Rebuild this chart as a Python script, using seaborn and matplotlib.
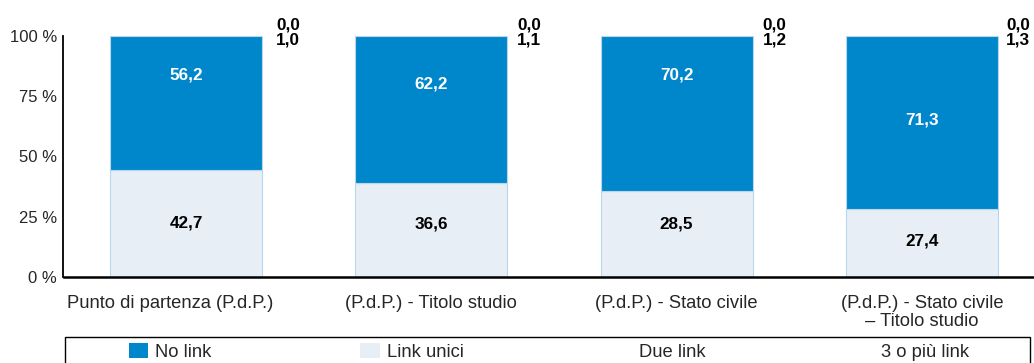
import matplotlib
matplotlib.use("Agg")
import matplotlib.pyplot as plt
import matplotlib.transforms as mtrans
import seaborn as sns
import numpy as np
import pandas as pd
from matplotlib.patches import Rectangle, Patch

categories = ["Punto di partenza (P.d.P.)", "(P.d.P.) - Titolo studio",
              "(P.d.P.) - Stato civile", "(P.d.P.) - Stato civile\n– Titolo studio"]
# values printed on the chart
link_unici = [42.7, 36.6, 28.5, 27.4]
no_link = [56.2, 62.2, 70.2, 71.3]
due_link = [1.0, 1.1, 1.2, 1.3]
tre_piu = [0.0, 0.0, 0.0, 0.0]
# segment heights as drawn in the picture (they do not follow the printed values)
link_unici_drawn = [44.4, 38.9, 35.7, 28.1]
no_link_drawn = [55.6, 61.1, 64.3, 71.9]
yticks = [0, 25, 50, 75, 100]
ytick_labels = ["0 %", "25 %", "50 %", "75 %", "100 %"]
series_names = ["No link", "Link unici", "Due link", "3 o più link"]

# label placement (percent of axis) for the in-bar labels
no_link_label_y = [83.8, 80.0, 83.8, 65.0]
link_unici_label_y = [22.4, 22.0, 22.0, 15.0]
side_label_dx = [0.367, 0.35, 0.35, 0.343]

BLUE = "#0087CB"
LIGHT = "#E7EEF5"
EDGE = "#B9D6EC"

sns.set_style("white")
plt.rcParams["font.family"] = ["Liberation Sans", "DejaVu Sans"]

W, H = 1034, 363
fig = plt.figure(figsize=(W / 100, H / 100), dpi=100)
ax = fig.add_axes([63.5 / W, 86 / H, 981 / W, 241 / H])

df = pd.DataFrame({"cat": categories, "unici": link_unici_drawn, "nolink": no_link_drawn})
bw = 0.62
sns.barplot(data=df, x="cat", y="unici", color=LIGHT, saturation=1, width=bw,
            errorbar=None, edgecolor=EDGE, linewidth=0.8, ax=ax)
sns.barplot(data=df, x="cat", y="nolink", color=BLUE, saturation=1, width=bw,
            errorbar=None, edgecolor=EDGE, linewidth=0.8, ax=ax,
            bottom=np.array(link_unici_drawn))

ax.set_xlim(-0.5, 3.5)
ax.set_ylim(0, 100)
ax.set_xlabel("")
ax.set_ylabel("")

fs_in = 12.3
fs_tick = 12
fs_cat = 13.2


def fmt(v):
    return f"{v:.1f}".replace(".", ",")


for i in range(len(categories)):
    ax.text(i, no_link_label_y[i], fmt(no_link[i]),
            ha="center", va="center", color="white", fontsize=fs_in, fontweight="bold")
    ax.text(i, link_unici_label_y[i], fmt(link_unici[i]),
            ha="center", va="center", color="black", fontsize=fs_in, fontweight="bold")
    ax.text(i + side_label_dx[i], 104.6, fmt(tre_piu[i]),
            ha="left", va="center", color="black", fontsize=fs_in, fontweight="bold",
            clip_on=False)
    ax.text(i + side_label_dx[i], 98.3, fmt(due_link[i]),
            ha="left", va="center", color="black", fontsize=fs_in, fontweight="bold",
            clip_on=False)

for s in ["top", "right"]:
    ax.spines[s].set_visible(False)
ax.spines["left"].set_color("black")
ax.spines["left"].set_linewidth(1.3)
ax.spines["bottom"].set_color("black")
ax.spines["bottom"].set_linewidth(1.8)

ax.set_yticks(yticks)
ax.set_yticklabels(ytick_labels, fontsize=fs_tick)
ax.tick_params(axis="y", direction="inout", length=5, width=1, color="black", pad=2)
ax.set_xticks(range(len(categories)))
ax.set_xticklabels(categories, fontsize=fs_cat, linespacing=1.05)
ax.tick_params(axis="x", which="major", length=0, pad=13)
ax.set_xticks([0.5, 1.5, 2.5], minor=True)
ax.tick_params(axis="x", which="minor", direction="in", length=5, width=1, color="black")

# first category label sits a little left of its bar in the reference
lbl0 = ax.get_xticklabels()[0]
lbl0.set_transform(lbl0.get_transform() +
                   mtrans.ScaledTranslation(-16 / 100, 0, fig.dpi_scale_trans))

# legend
handles = [Patch(facecolor=BLUE, edgecolor="none"),
           Patch(facecolor=LIGHT, edgecolor="none"),
           Patch(facecolor="white", edgecolor="none"),
           Patch(facecolor="white", edgecolor="none")]
fig.legend(handles, series_names, loc="upper left", ncol=4, frameon=False,
           bbox_to_anchor=(114 / W, 1 - 328 / H), fontsize=fs_cat,
           handlelength=1.08, handleheight=0.95, handletextpad=0.38,
           columnspacing=8.1, borderpad=0.3)
fig.add_artist(Rectangle((65 / W, -0.2), (1030 - 65) / W, 0.2 + (H - 337) / H,
                         transform=fig.transFigure, facecolor="none",
                         edgecolor="black", linewidth=1.0))

fig.savefig("out.png", dpi=100)
